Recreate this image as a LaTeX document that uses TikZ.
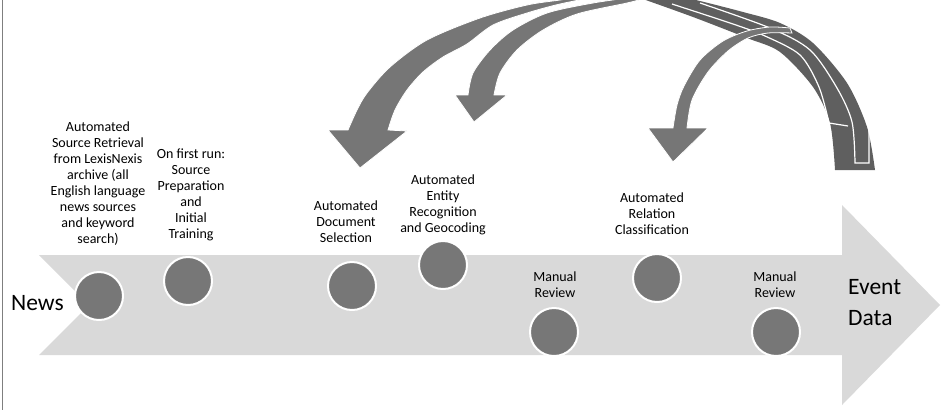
\documentclass[tikz,border=0pt]{standalone}
\usepackage{fontspec}
\setmainfont{Carlito}
\usepackage{color}
\usetikzlibrary{positioning}
\definecolor{flowgray}{HTML}{D9D9D9}
\definecolor{dotgray}{HTML}{777777}
\definecolor{curlgray}{HTML}{767676}
\definecolor{tailgray}{HTML}{5F5F5F}
\definecolor{framegray}{HTML}{7F7F7F}
\tikzset{
	stepdot/.style={circle, fill=dotgray, draw=white, line width=2pt, minimum size=48pt, inner sep=0pt},
	steptext/.style={align=center, inner sep=0pt, font=\fontsize{14}{16}\selectfont},
	endtext/.style={align=left, inner sep=0pt, font=\fontsize{23.5}{31}\selectfont},
	curlarrow/.style={fill=curlgray, draw=white, line width=0.8pt},
	tailline/.style={draw=white, line width=1.2pt}
}
\newcommand{\mainflow}{\fill[flowgray] (39,255) -- (842,255) -- (842,205) -- (940,305) -- (842,405) -- (842,355) -- (39,355) -- (89,305) -- cycle;}
\newcommand{\stackedtail}{\fill[tailgray] plot[smooth] coordinates {(640,-2) (693,17) (747,38) (780,52) (813,87) (830,123) (835,170)}
					-- (875,170)
					-- plot[smooth] coordinates {(875,170) (867,127) (847,83) (813,43) (780,23) (743,12) (700,1) (670,-6)} -- cycle;
					\draw[tailline] plot[smooth] coordinates {(672,4) (733,24) (765,36) (800,55) (819,87) (829,123)} -- (848,126);
					\draw[tailline] plot[smooth] coordinates {(700,3) (770,28) (810,50) (837,88) (852,122) (855,163)} -- (869,163) -- (869,127);}

\begin{document}
\begin{tikzpicture}[x=1pt, y=-1pt]

	\useasboundingbox (0,0) rectangle (941,410);
	\clip (0,0) rectangle (941,410);

	\draw[framegray, line width=1pt] (2.5,0) -- (2.5,410);

	\mainflow

	\node[stepdot] (s1) at (99,296) {};
	\node[stepdot] (s2) at (188,281) {};
	\node[stepdot] (s3) at (352,286) {};
	\node[stepdot] (s4) at (443,265) {};
	\node[stepdot] (s5) at (554,332) {};
	\node[stepdot] (s6) at (657,278) {};
	\node[stepdot] (s7) at (776,332) {};

	\stackedtail

	\filldraw[curlarrow] (328,130) -- (348,130)
		-- plot[smooth] coordinates {(348,130) (357,110) (367,93) (390,67) (427,40) (480,18) (527,5) (560,0) (585,-4)}
		-- plot[smooth] coordinates {(600,-4) (560,4) (527,13) (493,25) (467,44) (443,57) (423,72) (407,90) (395,110) (388,130)}
		-- (407,131) -- (360,168) -- cycle;

	\filldraw[curlarrow] (455,95) -- (468,95)
		-- plot[smooth] coordinates {(468,95) (473,73) (490,50) (513,30) (547,13) (593,3) (635,-3)}
		-- plot[smooth] coordinates {(650,-3) (627,3) (577,14) (543,30) (517,50) (500,73) (494,95)}
		-- (507,95) -- (474,122) -- cycle;

	\filldraw[curlarrow] (648,128) -- (673,128)
		-- plot[smooth] coordinates {(673,128) (677,105) (684,86) (700,60) (723,41) (747,31) (770,27) (790,28)}
		-- plot[smooth] coordinates {(792,33) (768,33) (748,38) (728,51) (708,72) (692,100) (687,128)}
		-- (708,128) -- (673,162) -- cycle;

	\node[steptext] (l1) at (98,184) {Automated\\Source Retrieval\\from LexisNexis\\archive (all\\English language\\news sources\\and keyword\\search)};
	\node[steptext] (l2) at (191,195) {On first run:\\Source\\Preparation\\and\\Initial\\Training};
	\node[steptext] (l3) at (346,222) {Automated\\Document\\Selection};
	\node[steptext] (l4) at (443,205) {Automated\\Entity\\Recognition\\and Geocoding};
	\node[steptext] (l5) at (555,285) {Manual\\Review};
	\node[steptext] (l6) at (652,214) {Automated\\Relation\\Classification};
	\node[steptext] (l7) at (775,285) {Manual\\Review};

	\node[endtext, anchor=base west] (news) at (11,310) {News};
	\node[endtext, anchor=west] (event) at (848,302.5) {Event\\Data};

\end{tikzpicture}
\end{document}
